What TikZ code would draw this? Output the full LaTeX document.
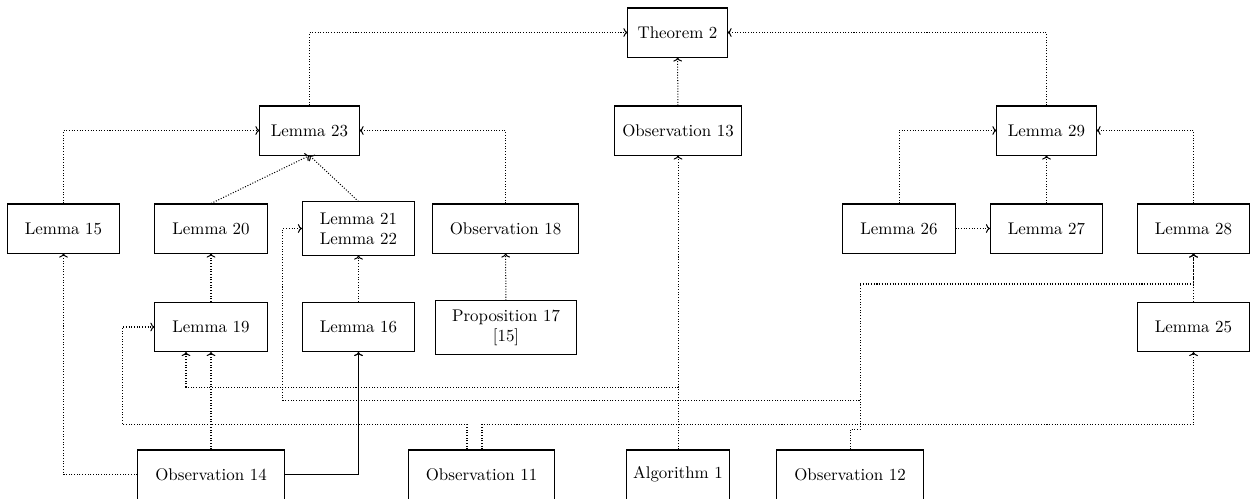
\documentclass[tikz,border=0pt]{standalone}
\usetikzlibrary{calc,arrows.meta}
\begin{document}
\begin{tikzpicture}[x=0.5917pt,y=-0.5917pt,
  box/.style={draw,semithick,minimum height=29pt,inner sep=2pt,align=center},
  wA/.style={minimum width=58.6pt},
  wL/.style={minimum width=66.3pt},
  wO/.style={minimum width=86.7pt},
  dep/.style={-{To[length=2.4pt,width=5.2pt]},densely dotted,line width=0.6pt},
  hard/.style={-{To[length=2.4pt,width=5.2pt]},line width=0.7pt}]
\useasboundingbox (0,0) rectangle (1250,498);
% nodes
\node[box,wA] (t2) at (677.5,32.5) {Theorem 2};
\node[box,wA] (l23) at (309.5,130.5) {Lemma 23};
\node[box,minimum width=74.6pt] (o13) at (678,130.5) {Observation 13};
\node[box,wA] (l29) at (1046.5,130.5) {Lemma 29};
\node[box,wL] (l15) at (63.5,228.5) {Lemma 15};
\node[box,wL] (l20) at (211,228.5) {Lemma 20};
\node[box,wL,minimum height=31.4pt] (l2122) at (358.5,228.5) {Lemma 21\\Lemma 22};
\node[box,wO] (o18) at (505.5,228.5) {Observation 18};
\node[box,wL] (l26) at (899,228.5) {Lemma 26};
\node[box,wL] (l27) at (1046.5,228.5) {Lemma 27};
\node[box,wL] (l28) at (1193.5,228.5) {Lemma 28};
\node[box,wL] (l19) at (211,327) {Lemma 19};
\node[box,wL] (l16) at (358.5,327) {Lemma 16};
\node[box,minimum width=84pt,minimum height=31.4pt] (p17) at (506,327.5) {Proposition 17\\{}[15]};
\node[box,wL] (l25) at (1193.5,327) {Lemma 25};
\node[box,wO] (o14) at (211,474.5) {Observation 14};
\node[box,wO] (o11) at (481.5,474.5) {Observation 11};
\node[box,minimum width=61.5pt] (a1) at (678,474.5) {Algorithm 1};
\node[box,wO] (o12) at (850,474.5) {Observation 12};
% top level
\draw[dep] (l23.north) |- (t2.west);
\draw[dep] (o13) -- (t2);
\draw[dep] (l29.north) |- (t2.east);
% lemma 23 group
\draw[dep] (l15.north) |- (l23.west);
\draw[dep] (l20.north) -- (l23.south);
\draw[dep] (l2122.north) -- (l23.south);
\draw[dep] (o18.north) |- (l23.east);
% lemma 29 group
\draw[dep] (l26.north) |- (l29.west);
\draw[dep] (l27) -- (l29);
\draw[dep] (l28.north) |- (l29.east);
\draw[dep] (l26) -- (l27);
% third row
\draw[dep] (l19) -- (l20);
\draw[dep] (l16) -- (l2122);
\draw[dep] (p17) -- (o18);
\draw[dep] (l25) -- (l28);
% bottom row
\draw[dep] (a1) -- (o13);
\draw[dep] (a1.north) |- ($(l19.south)+(-25,35)$) -- ($(l19.south)+(-25,0)$);
\draw[dep] (o14.west) -| (l15.south);
\draw[dep] (o14) -- (l19);
\draw[hard] (o14.east) -| (l16.south);
\draw[dep] ($(o11.north)+(-14.5,0)$) -- ++(0,-25) -| ($(l19.west)+(-32,0)$) -- (l19.west);
\draw[dep] ($(o11.north)+(0.5,0)$) -- ++(0,-25) -| (l25.south);
\draw[dep] (o12.north) -- ++(0,-20) -- ++(10,0) |- ($(l2122.west)+(-19,172)$) |- (l2122.west);
\draw[dep] (o12.north) -- ++(0,-20) -- ++(10,0) -- ++(0,-145.5) -| (l28.south);
\end{tikzpicture}
\end{document}
